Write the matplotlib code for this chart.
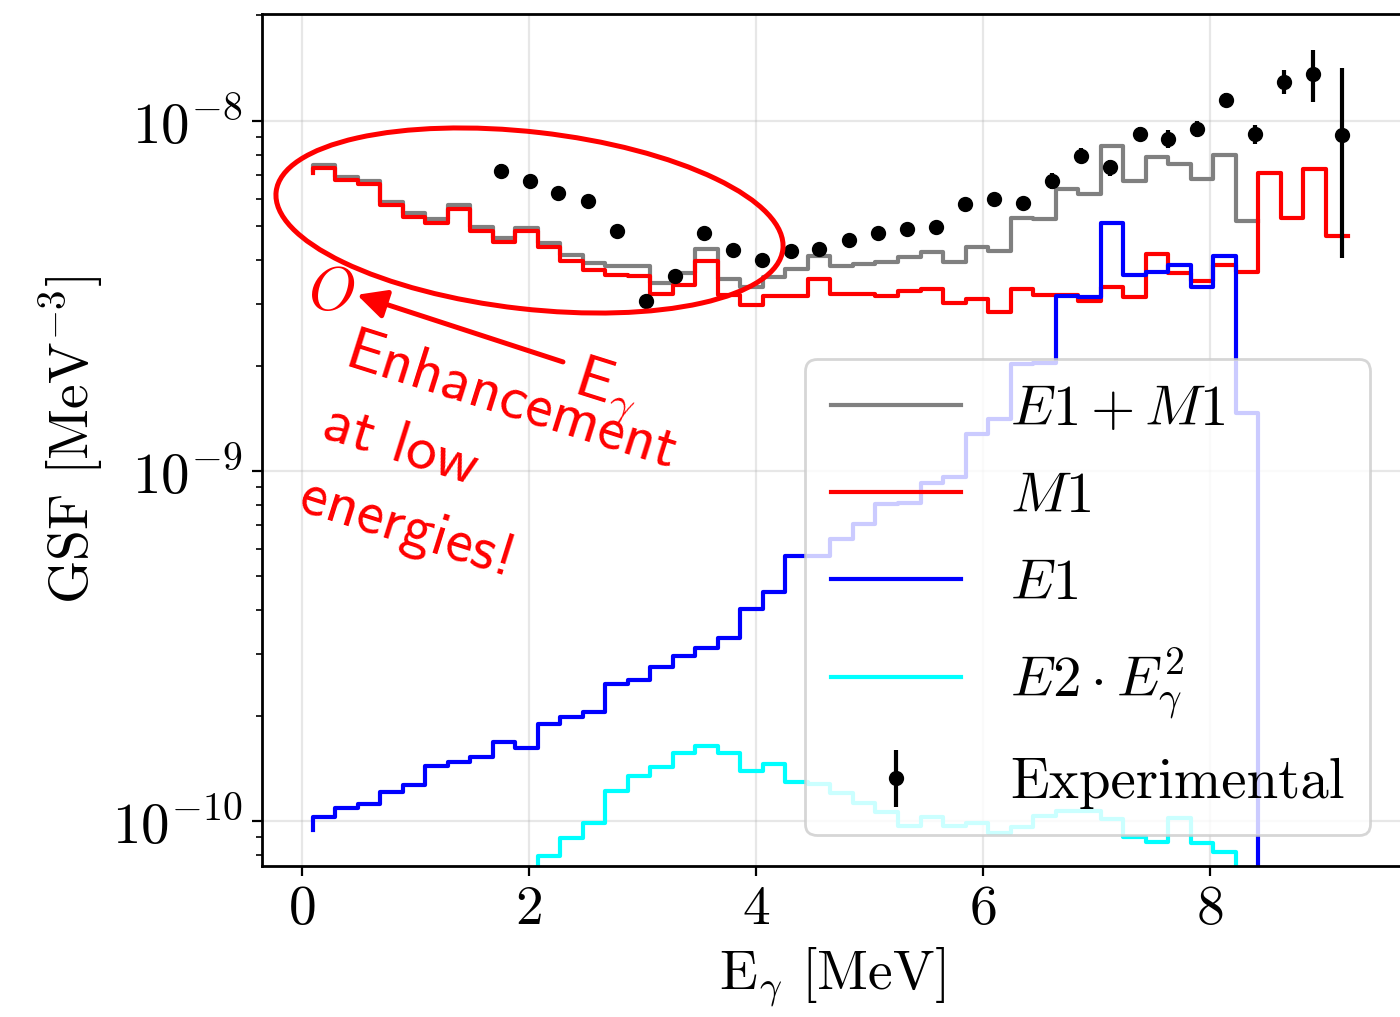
import numpy as np
import matplotlib
matplotlib.use("Agg")
import matplotlib.pyplot as plt
from matplotlib.patches import Ellipse

plt.rcParams.update({
    "font.family": "serif",
    "font.serif": ["cmr10"],
    "mathtext.fontset": "cm",
    "axes.formatter.use_mathtext": True,
    "font.size": 20,
    "axes.linewidth": 1.0,
})

# model bin edges [MeV]
edges = np.linspace(0.096, 9.218, 47)

# strength functions [MeV^-3]: value at the first edge, then one value per bin
gsf_e1m1 = np.array([7.24, 7.49, 6.91, 6.73, 5.86, 5.45, 5.25, 5.75, 4.99, 4.64,
                     4.94, 4.47, 4.14, 3.92, 3.86, 3.84, 3.45, 3.67, 4.30, 3.53,
                     3.36, 3.58, 3.77, 4.10, 3.84, 3.90, 3.96, 4.08, 4.23, 3.96,
                     4.37, 4.26, 5.29, 5.23, 6.38, 6.19, 8.48, 6.71, 7.88, 7.54,
                     6.82, 8.00, 5.16]) * 1e-9

gsf_m1 = np.array([7.09, 7.33, 6.78, 6.61, 5.75, 5.31, 5.12, 5.60, 4.86, 4.51,
                   4.83, 4.35, 3.99, 3.74, 3.63, 3.61, 3.20, 3.40, 3.98, 3.18,
                   2.98, 3.15, 3.16, 3.54, 3.20, 3.20, 3.15, 3.27, 3.30, 3.01,
                   3.10, 2.85, 3.30, 3.18, 3.18, 3.06, 3.35, 3.13, 4.16, 3.67,
                   3.49, 3.87, 3.69, 7.11, 5.27, 7.28, 4.70]) * 1e-9

gsf_e1 = np.array([0.943, 1.029, 1.091, 1.120, 1.208, 1.265, 1.436, 1.477, 1.526,
                   1.685, 1.613, 1.889, 1.986, 2.053, 2.458, 2.533, 2.748, 2.955,
                   3.114, 3.339, 4.033, 4.50, 5.72, 5.72, 6.38, 7.04, 8.05, 8.12,
                   9.22, 9.63, 12.73, 14.05, 20.2, 20.4, 31.6, 31.3, 51.2, 36.3,
                   37.1, 38.7, 33.5, 41.0, 14.6, 0.5]) * 1e-10

gsf_e2 = np.array([0.60, 0.794, 0.893, 0.985, 1.218, 1.344, 1.424, 1.561, 1.638,
                   1.567, 1.39, 1.452, 1.295, 1.273, 1.200, 1.128, 1.063, 0.968,
                   1.029, 0.968, 0.985, 0.922, 0.959, 1.033, 1.07, 1.07, 1.011,
                   0.902, 0.869, 1.018, 0.864, 0.817, 0.60]) * 1e-10

# experimental data
exp_e = [1.75, 2.01, 2.26, 2.52, 2.78, 3.03, 3.29, 3.54, 3.80, 4.05,
         4.31, 4.56, 4.82, 5.08, 5.33, 5.59, 5.84, 6.10, 6.35, 6.61,
         6.86, 7.12, 7.38, 7.63, 7.89, 8.14, 8.40, 8.65, 8.91, 9.16]
exp_gsf = np.array([7.21, 6.75, 6.21, 5.91, 4.83, 3.05, 3.61, 4.78, 4.28, 4.01,
                    4.26, 4.30, 4.57, 4.78, 4.92, 4.99, 5.78, 6.00, 5.82, 6.74,
                    7.96, 7.36, 9.16, 8.87, 9.47, 11.48, 9.16, 12.95, 13.6, 9.10]) * 1e-9
exp_err = np.array([0.31, 0.15, 0.15, 0.15, 0.12, 0.08, 0.10, 0.12, 0.10, 0.10,
                    0.10, 0.10, 0.12, 0.12, 0.13, 0.13, 0.17, 0.18, 0.19, 0.34,
                    0.40, 0.39, 0.43, 0.53, 0.50, 0.54, 0.60, 1.04, 2.30, 5.05]) * 1e-9

fig = plt.figure(figsize=(7, 5.085), dpi=200)
ax = fig.add_axes([0.1871, 0.1485, 0.8143, 0.8378])

ax.step(edges[:43], gsf_e1m1, where="pre", color="gray", lw=1.5, label=r"$E1 + M1$")
ax.step(edges, gsf_m1, where="pre", color="red", lw=1.5, label=r"$M1$")
ax.step(edges[:44], gsf_e1, where="pre", color="blue", lw=1.5, label=r"$E1$")
ax.step(edges[10:43], gsf_e2, where="pre", color="cyan", lw=1.5,
        label=r"$E2 \cdot E_\gamma^2$")
ax.errorbar(exp_e, exp_gsf, yerr=exp_err, fmt="o", color="black", ms=4.5,
            lw=1.5, label="Experimental", zorder=4)

ax.set_yscale("log")
ax.set_xlim(-0.352, 9.692)
ax.set_ylim(7.44e-11, 2.02e-8)
ax.tick_params(axis="y", which="major", labelsize=20.5)
ax.grid(True, alpha=0.3)
ax.set_axisbelow(True)
ax.set_xlabel(r"$\mathrm{E}_\gamma$ [MeV]")
ax.set_ylabel(r"GSF [MeV$^{-3}$]", labelpad=2)

ax.legend(loc="lower right", bbox_to_anchor=(0.9719, 0.0364), borderaxespad=0,
          fontsize=20.5, handlelength=2.28, handletextpad=0.86, labelspacing=0.63,
          borderpad=0.45)

# highlight the low-energy upbend
ell = Ellipse((2.6475, 3.9825), 2.55, 0.885, angle=-6.5, transform=fig.dpi_scale_trans,
              fill=False, ec="red", lw=1.8, zorder=5, clip_on=False)
ax.add_patch(ell)

ax.annotate("", xy=(0.485, 3.185e-9), xytext=(2.30, 2.048e-9),
            arrowprops=dict(arrowstyle="-|>", color="red", lw=1.8,
                            mutation_scale=22, shrinkA=0, shrinkB=0))
ax.text(0.264, 3.205e-9, r"$O$", color="red", fontsize=22, ha="center", va="center")

note = dict(color="red", fontsize=22, family="cmss10", rotation=-17.5,
            rotation_mode="anchor", ha="left", va="baseline")
ax.text(2.379, 1.681e-9, r"$\mathsf{E}_\gamma$", **note)
ax.text(0.361, 1.995e-9, "Enhancement", **note)
ax.text(0.159, 1.251e-9, "at low", **note)
ax.text(-0.044, 7.74e-10, "energies!", **note)

fig.savefig("out.png", dpi=200)
